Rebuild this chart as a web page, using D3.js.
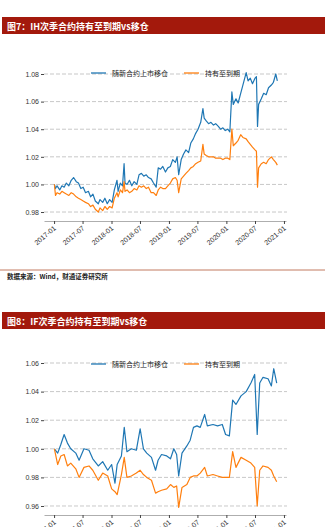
<!DOCTYPE html>
<html>
<head>
<meta charset="utf-8">
<script src="https://cdn.jsdelivr.net/npm/d3@7"></script>
<style>
  body { margin: 0; background: #fff; }
  svg { display: block; }
</style>
</head>
<body>
<script>
// legend names + shared x ticks
var seriesNames = ["随新合约上市移仓", "持有至到期"];
var xTickLabels = ["2017-01", "2017-07", "2018-01", "2018-07", "2019-01",
                   "2019-07", "2020-01", "2020-07", "2021-01"];

// fig 7: IH
var ihDates = ["2017-01-03","2017-01-10","2017-01-20","2017-02-06","2017-02-20","2017-03-06","2017-03-20","2017-04-05","2017-04-20","2017-05-05",
  "2017-05-22","2017-06-05","2017-06-20","2017-07-05","2017-07-20","2017-08-07","2017-08-21","2017-09-05","2017-09-20","2017-10-09",
  "2017-10-20","2017-11-06","2017-11-20","2017-12-05","2017-12-20","2018-01-05","2018-01-19","2018-02-05","2018-02-12","2018-02-26",
  "2018-03-12","2018-03-22","2018-03-28","2018-04-10","2018-04-25","2018-05-10","2018-05-25","2018-06-11","2018-06-25","2018-07-10",
  "2018-07-25","2018-08-10","2018-08-24","2018-09-10","2018-09-25","2018-10-12","2018-10-25","2018-11-09","2018-11-23","2018-12-10",
  "2018-12-25","2019-01-10","2019-01-25","2019-02-11","2019-02-22","2019-03-04","2019-03-20","2019-04-04","2019-04-19","2019-05-06",
  "2019-05-20","2019-06-05","2019-06-20","2019-07-05","2019-07-22","2019-08-05","2019-08-13","2019-08-26","2019-09-10","2019-09-25",
  "2019-10-11","2019-10-25","2019-11-11","2019-11-25","2019-12-10","2019-12-25","2020-01-10","2020-01-23","2020-02-05","2020-02-14",
  "2020-03-02","2020-03-16","2020-04-01","2020-04-15","2020-05-06","2020-05-18","2020-06-01","2020-06-15","2020-07-01","2020-07-10",
  "2020-07-17","2020-07-24","2020-08-10","2020-08-25","2020-09-10","2020-09-25","2020-10-13","2020-10-26","2020-11-10","2020-11-20"];
var ihRoll = [1.000,0.997,0.999,0.996,0.999,0.998,1.001,0.999,1.003,1.005,
  1.002,1.001,0.997,0.998,0.994,0.995,0.991,0.993,0.988,0.986,
  0.989,0.987,0.990,0.986,0.989,0.987,0.996,1.003,0.995,1.001,
  0.999,1.015,1.001,1.000,1.003,0.999,1.002,1.000,1.007,1.008,
  1.006,1.007,1.005,1.004,1.001,0.998,1.012,1.011,1.013,1.009,
  1.012,1.013,1.018,1.016,1.020,1.007,1.018,1.022,1.025,1.023,
  1.030,1.033,1.037,1.040,1.045,1.055,1.048,1.046,1.044,1.045,
  1.043,1.044,1.042,1.040,1.041,1.039,1.040,1.038,1.067,1.058,
  1.062,1.059,1.066,1.072,1.081,1.075,1.077,1.073,1.077,1.078,
  1.042,1.058,1.062,1.066,1.065,1.070,1.072,1.074,1.080,1.075];
var ihHold = [1.000,0.992,0.994,0.993,0.995,0.994,0.993,0.992,0.994,0.993,
  0.991,0.990,0.989,0.988,0.987,0.986,0.984,0.985,0.982,0.980,
  0.983,0.981,0.984,0.982,0.984,0.983,0.990,0.994,0.991,0.996,
  0.994,1.002,0.995,0.996,0.994,0.995,0.997,0.996,0.999,0.998,
  0.999,0.997,0.998,0.994,0.994,0.992,0.996,0.998,0.997,0.997,
  0.999,1.001,1.004,1.005,1.003,0.994,1.004,1.006,1.008,1.010,
  1.012,1.013,1.015,1.016,1.017,1.029,1.022,1.021,1.020,1.020,
  1.020,1.019,1.019,1.019,1.018,1.019,1.019,1.018,1.040,1.028,
  1.030,1.032,1.036,1.034,1.033,1.031,1.029,1.027,1.025,1.024,
  0.998,1.012,1.015,1.016,1.015,1.018,1.020,1.018,1.016,1.014];
var ihTicks = [0.98, 1.00, 1.02, 1.04, 1.06, 1.08];

// fig 8: IF
var ifDates = ["2017-01-03","2017-01-24","2017-02-13","2017-03-06","2017-03-27","2017-04-17","2017-05-19","2017-06-09","2017-07-10","2017-08-11",
  "2017-09-04","2017-10-09","2017-11-06","2017-12-08","2018-01-02","2018-01-23","2018-02-06","2018-03-05","2018-03-23","2018-04-09",
  "2018-05-07","2018-06-08","2018-07-02","2018-07-23","2018-08-13","2018-09-12","2018-10-08","2018-10-24","2018-11-15","2018-12-18",
  "2019-01-11","2019-02-01","2019-02-19","2019-03-04","2019-03-25","2019-04-25","2019-05-16","2019-06-06","2019-06-28","2019-07-19",
  "2019-08-16","2019-09-02","2019-10-08","2019-11-06","2019-12-06","2019-12-27","2020-01-20","2020-02-10","2020-03-02","2020-04-03",
  "2020-05-06","2020-06-05","2020-06-29","2020-07-15","2020-07-31","2020-08-21","2020-09-22","2020-10-13","2020-10-28","2020-11-16"];
var ifRoll = [1.000,0.997,1.003,1.010,1.004,1.000,0.997,0.992,1.000,0.999,
  0.993,0.988,0.991,0.985,0.989,0.976,0.989,0.995,1.015,0.998,
  1.000,0.999,1.014,1.000,0.997,0.994,0.985,0.992,0.996,0.995,
  0.993,1.000,0.996,0.981,0.997,1.002,1.006,1.015,1.016,1.015,
  1.024,1.016,1.017,1.016,1.017,1.010,1.009,1.034,1.031,1.037,
  1.040,1.046,1.052,1.010,1.046,1.050,1.049,1.044,1.056,1.046];
var ifHold = [1.000,0.989,0.995,0.996,0.988,0.990,0.986,0.980,0.987,0.988,
  0.985,0.978,0.983,0.981,0.972,0.970,0.968,0.982,0.994,0.980,
  0.981,0.983,0.985,0.982,0.980,0.978,0.969,0.970,0.971,0.972,
  0.975,0.973,0.974,0.959,0.973,0.975,0.980,0.981,0.981,0.983,
  0.987,0.981,0.982,0.981,0.980,0.980,0.980,0.998,0.987,0.994,
  0.992,0.990,0.987,0.960,0.985,0.988,0.987,0.985,0.981,0.977];
var ifTicks = [0.96, 0.98, 1.00, 1.02, 1.04, 1.06];

var colors = ["#1f77b4", "#ff7f0e"];
var parseDate = d3.timeParse("%Y-%m-%d");
var parseMonth = d3.timeParse("%Y-%m");

var svg = d3.select("body").append("svg")
    .attr("width", 335)
    .attr("height", 527);

function drawPanel(opt) {
  var x = d3.scaleTime()
      .domain([new Date(2016, 9, 29), new Date(2021, 0, 14)])
      .range([44, 286]);
  var y = d3.scaleLinear()
      .domain(opt.yDomain)
      .range([opt.baseY, opt.topY]);

  // red title bar
  svg.append("rect")
      .attr("x", 2).attr("y", opt.titleY)
      .attr("width", 323).attr("height", 17)
      .attr("fill", "#a3190c");
  svg.append("text")
      .attr("x", 7).attr("y", opt.titleY + 12.5)
      .attr("fill", "#fff")
      .style("font-family", "'Noto Sans CJK SC', sans-serif")
      .style("font-weight", "bold")
      .style("font-size", "9px")
      .text(opt.title);

  // dashed grid
  svg.append("g").selectAll("line")
      .data(opt.yTicks)
    .enter().append("line")
      .attr("x1", 44).attr("x2", 287)
      .attr("y1", function(d) { return y(d); })
      .attr("y2", function(d) { return y(d); })
      .attr("stroke", "#b0b0b0")
      .attr("stroke-width", 0.7)
      .attr("stroke-dasharray", "4,2");

  // y axis, no spine
  var gy = svg.append("g")
      .attr("transform", "translate(44,0)")
      .call(d3.axisLeft(y).tickValues(opt.yTicks).tickSize(3).tickFormat(d3.format(".2f")));
  gy.select(".domain").remove();
  gy.selectAll(".tick line").attr("stroke", "#444");
  gy.selectAll("text")
      .attr("x", -5)
      .attr("fill", "#333")
      .style("font-family", "'Liberation Sans', sans-serif")
      .style("font-size", "7px");

  // x axis
  var gx = svg.append("g")
      .attr("transform", "translate(0," + opt.baseY + ")")
      .call(d3.axisBottom(x)
        .tickValues(xTickLabels.map(parseMonth))
        .tickSize(3).tickSizeOuter(0)
        .tickFormat(d3.timeFormat("%Y-%m")));
  gx.select(".domain").attr("stroke", "#999").attr("stroke-width", 0.8);
  gx.selectAll(".tick line").attr("stroke", "#444");
  gx.selectAll("text")
      .attr("x", 0).attr("y", 0).attr("dy", 0)
      .attr("transform", "translate(2,8) rotate(-40)")
      .style("text-anchor", "end")
      .attr("fill", "#333")
      .style("font-family", "'Liberation Sans', sans-serif")
      .style("font-size", "7px");

  // the two series
  var line = d3.line()
      .x(function(d) { return x(d.date); })
      .y(function(d) { return y(d.v); });
  [opt.roll, opt.hold].forEach(function(vals, i) {
    var pts = opt.dates.map(function(s, k) { return {date: parseDate(s), v: vals[k]}; });
    svg.append("path")
        .datum(pts)
        .attr("fill", "none")
        .attr("stroke", colors[i])
        .attr("stroke-width", 1.2)
        .attr("stroke-linejoin", "round")
        .attr("d", line);
  });

  // legend
  var legX = [91, 184];
  seriesNames.forEach(function(name, i) {
    svg.append("line")
        .attr("x1", legX[i]).attr("x2", legX[i] + 15)
        .attr("y1", opt.legendY).attr("y2", opt.legendY)
        .attr("stroke", colors[i]).attr("stroke-width", 1.3);
    svg.append("text")
        .attr("x", legX[i] + 21).attr("y", opt.legendY + 2.5)
        .attr("fill", "#222")
        .style("font-family", "'Noto Sans CJK SC', sans-serif")
        .style("font-size", "7px")
        .text(name);
  });

  if (opt.source) {
    svg.append("line")
        .attr("x1", 0).attr("x2", 325)
        .attr("y1", opt.sourceY).attr("y2", opt.sourceY)
        .attr("stroke", "#c27b60").attr("stroke-width", 1);
    svg.append("text")
        .attr("x", 7).attr("y", opt.sourceY + 9)
        .attr("fill", "#222")
        .style("font-family", "'Noto Sans CJK SC', sans-serif")
        .style("font-weight", "bold")
        .style("font-size", "6.5px")
        .text(opt.source);
  }
}

drawPanel({
  title: "图7：IH次季合约持有至到期vs移仓",
  titleY: 17,
  dates: ihDates, roll: ihRoll, hold: ihHold,
  yTicks: ihTicks, yDomain: [0.9735, 1.08],
  baseY: 221, topY: 74, legendY: 73,
  source: "数据来源：Wind，财通证券研究所", sourceY: 270
});

drawPanel({
  title: "图8：IF次季合约持有至到期vs移仓",
  titleY: 312,
  dates: ifDates, roll: ifRoll, hold: ifHold,
  yTicks: ifTicks, yDomain: [0.9537, 1.06],
  baseY: 515, topY: 363, legendY: 364
});
</script>
</body>
</html>
